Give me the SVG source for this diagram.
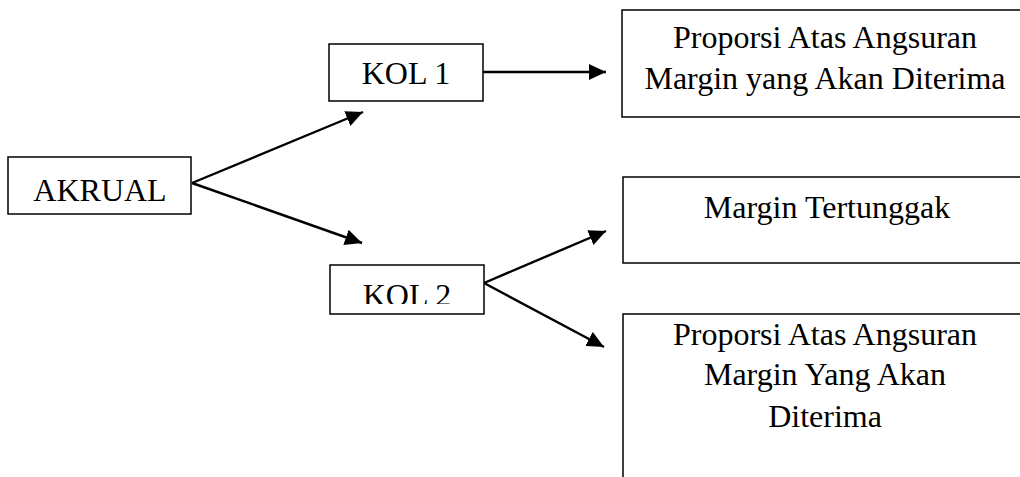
<svg xmlns="http://www.w3.org/2000/svg" width="1020" height="477" viewBox="0 0 1020 477">
<style>
.box{fill:#fff;stroke:#000;stroke-width:1.5}
.t{font-family:"Liberation Serif","Times New Roman",serif;font-size:32px;fill:#000;text-anchor:middle}
.c{fill:none;stroke:#000;stroke-width:2.4}
</style>
<defs>
<marker id="ah" markerUnits="userSpaceOnUse" markerWidth="18" markerHeight="16" refX="17" refY="8" orient="auto" viewBox="0 0 18 16">
<path d="M0,0 L17,8 L0,16 Z" fill="#000"/>
</marker>
<clipPath id="k2clip"><rect x="330" y="265" width="154" height="39"/></clipPath>
</defs>
<rect width="1020" height="477" fill="#fff"/>
<g id="connectors">
<path class="c" d="M192,183 L363,112" marker-end="url(#ah)"/>
<path class="c" d="M192,183 L362,243" marker-end="url(#ah)"/>
<path class="c" d="M483,72 L606,72" marker-end="url(#ah)"/>
<path class="c" d="M484,283 L606,231" marker-end="url(#ah)"/>
<path class="c" d="M484,283 L604,347" marker-end="url(#ah)"/>
</g>
<g id="akrual">
<rect class="box" x="8" y="157" width="183" height="57"/>
<text class="t" x="100" y="201">AKRUAL</text>
</g>
<g id="kol1">
<rect class="box" x="329" y="44" width="154" height="57"/>
<text class="t" x="406" y="84">KOL 1</text>
</g>
<g id="kol2">
<rect class="box" x="330" y="265" width="154" height="49"/>
<text class="t" x="407" y="306" clip-path="url(#k2clip)">KOL 2</text>
</g>
<g id="proporsi1">
<rect class="box" x="622" y="10" width="420" height="107"/>
<text class="t" x="825" y="48">Proporsi Atas Angsuran</text>
<text class="t" x="825" y="89">Margin yang Akan Diterima</text>
</g>
<g id="margin-tertunggak">
<rect class="box" x="623" y="177" width="420" height="86"/>
<text class="t" x="827" y="218">Margin Tertunggak</text>
</g>
<g id="proporsi2">
<rect class="box" x="623" y="314" width="420" height="200"/>
<text class="t" x="825" y="345">Proporsi Atas Angsuran</text>
<text class="t" x="825" y="385">Margin Yang Akan</text>
<text class="t" x="825" y="427">Diterima</text>
</g>
</svg>
